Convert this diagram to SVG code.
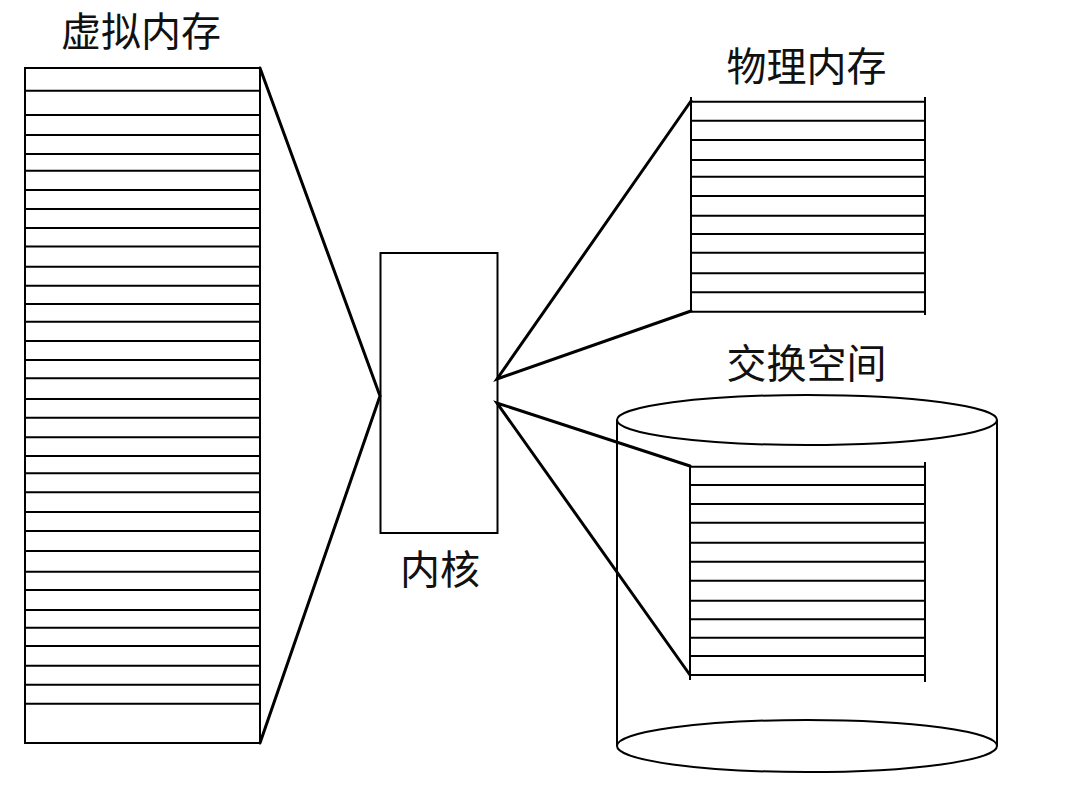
<svg xmlns="http://www.w3.org/2000/svg" width="1086" height="796" viewBox="0 0 1086 796">
<style>
.lbl{font-family:"Liberation Serif","Noto Sans CJK SC",serif;font-size:40px;fill:#111;text-anchor:middle}
.box{fill:#fff;stroke:#000;stroke-width:2}
.ln{stroke:#000;stroke-width:2;fill:none}
.con{stroke:#000;stroke-width:3;fill:none;stroke-linecap:round}
</style>
<rect width="1086" height="796" fill="#fff"/>
<g id="virtual-memory">
<text class="lbl" x="141" y="46">虚拟内存</text>
<rect class="box" x="25" y="68" width="235" height="675"/>
<path class="ln" d="M25 90.7H260M25 115H260M25 135H260M25 154H260M25 170.7H260M25 190H260M25 209H260M25 228H260M25 246.5H260M25 266.7H260M25 285.7H260M25 304H260M25 321.7H260M25 341H260M25 360H260M25 378.3H260M25 399H260M25 417.7H260M25 437.3H260M25 456H260M25 473.3H260M25 492.3H260M25 512H260M25 531H260M25 551H260M25 571.7H260M25 590H260M25 610H260M25 627.7H260M25 646H260M25 665.7H260M25 684.7H260M25 703.7H260"/>
</g>
<g id="kernel">
<rect class="box" x="380.5" y="253" width="117" height="280"/>
<text class="lbl" x="440" y="584">内核</text>
</g>
<g id="physical-memory">
<text class="lbl" x="806.5" y="81">物理内存</text>
<path class="ln" d="M691 97V312M925 97V315"/>
<path class="ln" d="M691 101.7H925M691 120.7H925M691 140H925M691 160H925M691 176.7H925M691 196H925M691 215.7H925M691 234H925M691 252.7H925M691 273.3H925M691 292.3H925M691 311.7H925"/>
</g>
<g id="swap-space">
<text class="lbl" x="806.5" y="378">交换空间</text>
<ellipse class="ln" cx="807" cy="420" rx="190" ry="25"/>
<path class="ln" d="M617 420V746M997 420V746"/>
<ellipse class="ln" cx="807" cy="746" rx="190" ry="26"/>
<path class="ln" d="M690 466V680M925 462V682"/>
<path class="ln" d="M690 466.7H925M690 485H925M690 504H925M690 522.7H925M690 542.7H925M690 561.7H925M690 580.7H925M690 600.7H925M690 619.3H925M690 637.7H925M690 656H925M690 675H925"/>
</g>
<g id="connectors">
<path class="con" d="M260 68L380 396L260 743"/>
<path class="con" d="M691 101L497 379L691 311"/>
<path class="con" d="M690 466L497 403L690 675"/>
</g>
</svg>
